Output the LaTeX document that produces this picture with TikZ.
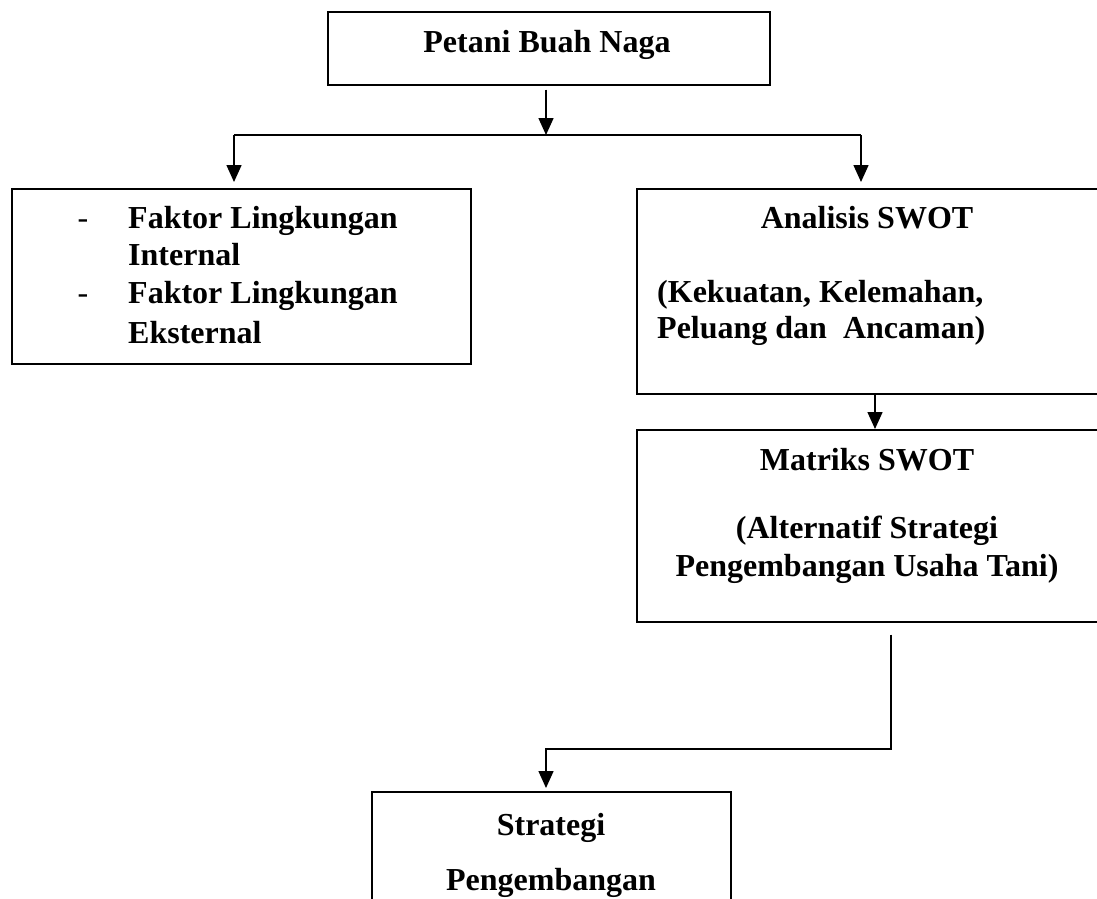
\documentclass[tikz,border=0pt]{standalone}
\usepackage{fontspec}
\setmainfont{Liberation Serif}
\usetikzlibrary{arrows.meta}
\tikzset{
  box/.style={draw, line width=1.5pt, anchor=north west, inner sep=0pt},
  arr/.style={line width=1.5pt, -{Triangle[width=15pt,length=17pt]}},
  txt/.style={font=\fontsize{32}{37}\selectfont\bfseries, inner sep=0pt}
}
\begin{document}
\begin{tikzpicture}[x=1pt,y=-1pt]
        \useasboundingbox (0,0) rectangle (1097,898);
        \clip (0,0) rectangle (1097,898);
        % boxes
        \node[box, minimum width=442pt, minimum height=73pt] (petani) at (327,11) {};
        \node[box, minimum width=459pt, minimum height=175pt] (faktor) at (11,188) {};
        \node[box, minimum width=480pt, minimum height=205pt] (analisis) at (636,188) {};
        \node[box, minimum width=480pt, minimum height=192pt] (matriks) at (636,429) {};
        \node[box, minimum width=359pt, minimum height=140pt] (strategi) at (371,791) {};
        % texts
        \node[txt, anchor=base] (tpetani) at (547,52) {Petani Buah Naga};
        \node[txt, anchor=base, font=\fontsize{32}{37}\selectfont] (dash1) at (83,228) {-};
        \node[txt, anchor=base west] (tf1) at (128,228) {Faktor Lingkungan};
        \node[txt, anchor=base west] (tf2) at (128,265) {Internal};
        \node[txt, anchor=base, font=\fontsize{32}{37}\selectfont] (dash2) at (83,303) {-};
        \node[txt, anchor=base west] (tf3) at (128,303) {Faktor Lingkungan};
        \node[txt, anchor=base west] (tf4) at (128,343) {Eksternal};
        \node[txt, anchor=base] (ta1) at (867,228) {Analisis SWOT};
        \node[txt, anchor=base west] (ta2) at (657,302) {(Kekuatan, Kelemahan,};
        \node[txt, anchor=base west] (ta3) at (657,338) {Peluang dan \ Ancaman)};
        \node[txt, anchor=base] (tm1) at (867,470) {Matriks SWOT};
        \node[txt, anchor=base] (tm2) at (867,538) {(Alternatif Strategi};
        \node[txt, anchor=base] (tm3) at (867,576) {Pengembangan Usaha Tani)};
        \node[txt, anchor=base] (ts1) at (551,835) {Strategi};
        \node[txt, anchor=base] (ts2) at (551,890) {Pengembangan};
        % connectors
        \coordinate (split) at (546,135);
        \coordinate (splitL) at (234,135);
        \coordinate (splitR) at (861,135);
        \coordinate (turn) at (891,749);
        \draw[arr] ([yshift=-4pt]split |- petani.south) -- (split);
        \draw[line width=1.5pt] (splitL) -- (splitR);
        \draw[arr, shorten >=6pt] (splitL) -- (splitL |- faktor.north);
        \draw[arr, shorten >=6pt] (splitR) -- (splitR |- analisis.north);
        \draw[arr] (875,393) -- (875,429);
        \draw[arr, shorten >=3pt] ([yshift=-12pt]turn |- matriks.south) -- (turn) -- (turn -| 546,0) -- (546,791);
\end{tikzpicture}
\end{document}
